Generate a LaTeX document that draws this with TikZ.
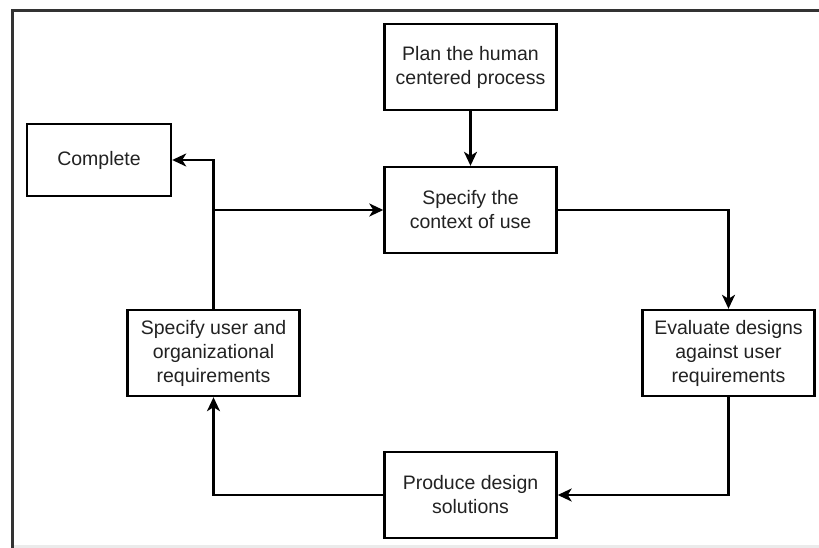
\documentclass[tikz,border=0pt]{standalone}
\usepackage{fontspec}
\setmainfont{Liberation Sans}
\usetikzlibrary{arrows.meta}
\definecolor{txt}{HTML}{222222}
\definecolor{framecol}{HTML}{333333}
\tikzset{
  stage/.style={draw=black, line width=2.4pt, fill=white, text=txt,
    minimum width=172pt, minimum height=86pt, inner sep=2pt,
    align=center, font=\fontsize{19.5}{24}\selectfont},
  link/.style={draw=black, line width=2.3pt,
    -{Stealth[length=14pt, width=13pt, inset=4pt]}},
  wire/.style={draw=black, line width=2.3pt}
}
\begin{document}
\begin{tikzpicture}[x=1pt, y=-1pt]
  % canvas and outer frame
  \fill[white] (0,0) rectangle (819,548);
  \useasboundingbox (0,0) rectangle (819,548);
  \fill[black!8] (12,545) rectangle (819,548);
  \draw[framecol, line width=2.8pt] (12.5,548) -- (12.5,10.5) -- (819,10.5);

  % process stages
  \node[stage] (plan)    at (470.5,67)  {Plan the human\\centered process};
  \node[stage] (context) at (470.5,210) {Specify the\\context of use};
  \node[stage] (eval)    at (728.5,353) {Evaluate designs\\against user\\requirements};
  \node[stage] (produce) at (470.5,495) {Produce design\\solutions};
  \node[stage] (spec)    at (213.5,353) {Specify user and\\organizational\\requirements};
  \node[stage, minimum width=144pt, minimum height=72pt] (done) at (99,160) {Complete};

  % flow between stages
  \draw[link] (plan) -- (context);
  \draw[link] (context.east) -| (eval.north);
  \draw[link] (eval.south) |- (produce.east);
  \draw[link] (produce.west) -| (spec.south);
  \draw[link] (spec.north) |- (done.east);
  \coordinate (split) at (spec.north |- context.west);
  \draw[link] (split) -- (context.west);
\end{tikzpicture}
\end{document}
